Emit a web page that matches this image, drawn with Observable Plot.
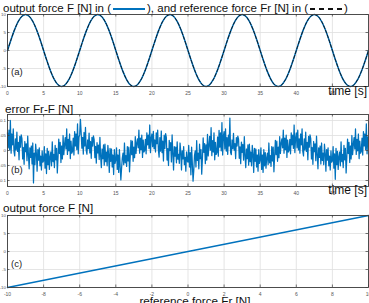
<!DOCTYPE html>
<html>
<head>
<meta charset="utf-8">
<script src="https://cdn.jsdelivr.net/npm/d3@7"></script>
<script src="https://cdn.jsdelivr.net/npm/@observablehq/plot@0.6"></script>
<style>
  body { margin: 0; background: #fff; }
  #fig { position: relative; width: 369px; height: 303px; overflow: hidden;
         font-family: "Liberation Sans", Arial, sans-serif; color: #111; background: #fff; }
  #fig > svg { position: absolute; left: 0; }
  .t { position: absolute; white-space: nowrap; font-size: 11.7px; line-height: 11.7px; }
  .t svg { vertical-align: middle; margin: 0 1px; }
</style>
</head>
<body>
<div id="fig"></div>
<script>
// Sampled forces for panel (a), one sample every 0.5 s from 0 to 50 s
const sineStep = 0.5;
const referenceForce = [
  0, 3.09, 5.88, 8.09, 9.51, 10, 9.51, 8.09, 5.88, 3.09, 0, -3.09, -5.88, -8.09, -9.51, -10, -9.51, -8.09, -5.88, -3.09,
  0, 3.09, 5.88, 8.09, 9.51, 10, 9.51, 8.09, 5.88, 3.09, 0, -3.09, -5.88, -8.09, -9.51, -10, -9.51, -8.09, -5.88, -3.09,
  0, 3.09, 5.88, 8.09, 9.51, 10, 9.51, 8.09, 5.88, 3.09, 0, -3.09, -5.88, -8.09, -9.51, -10, -9.51, -8.09, -5.88, -3.09,
  0, 3.09, 5.88, 8.09, 9.51, 10, 9.51, 8.09, 5.88, 3.09, 0, -3.09, -5.88, -8.09, -9.51, -10, -9.51, -8.09, -5.88, -3.09,
  0, 3.09, 5.88, 8.09, 9.51, 10, 9.51, 8.09, 5.88, 3.09, 0, -3.09, -5.88, -8.09, -9.51, -10, -9.51, -8.09, -5.88, -3.09,
  0
];
const outputForce = [
  0, 3.08, 5.87, 8.08, 9.50, 9.99, 9.50, 8.08, 5.88, 3.10, 0.01, -3.08, -5.88, -8.09, -9.51, -10, -9.50, -8.08, -5.87, -3.08,
  0, 3.09, 5.87, 8.08, 9.50, 9.99, 9.51, 8.09, 5.88, 3.10, 0.01, -3.08, -5.87, -8.09, -9.51, -10, -9.50, -8.08, -5.87, -3.08,
  0, 3.08, 5.87, 8.08, 9.50, 9.99, 9.50, 8.09, 5.88, 3.10, 0.01, -3.08, -5.88, -8.09, -9.51, -10, -9.50, -8.08, -5.87, -3.08,
  0, 3.09, 5.87, 8.08, 9.50, 9.99, 9.51, 8.09, 5.88, 3.10, 0.01, -3.08, -5.87, -8.09, -9.51, -10, -9.50, -8.08, -5.87, -3.08,
  0, 3.08, 5.87, 8.08, 9.50, 9.99, 9.50, 8.09, 5.88, 3.10, 0.01, -3.08, -5.88, -8.09, -9.51, -10, -9.50, -8.08, -5.87, -3.08,
  0
];

// Tracking error Fr-F for panel (b), in mN, one sample every 0.1 s (one row per second)
const errorStep = 0.1;
const errorMilli = [
  59, 9, 68, 2, 100, -9, 55, 19, 72, -3,
  -18, 39, 2, 61, -3, 27, -31, 47, 11, 52,
  40, -28, 10, -46, 30, -4, 22, -34, 48, -16,
  -61, 9, -23, 15, -45, 25, -108, -9, -47, 21,
  -9, -69, 3, -32, 9, -51, -19, -65, -1, -39,
  -35, 13, -59, -11, -77, 7, -47, -3, -63, -21,
  -5, -51, 29, -37, -13, -57, 17, -31, 7, -75,
  -22, 38, -10, 27, -40, 15, -28, 50, -14, 20,
  43, 5, 72, -13, 37, -1, 55, -27, 31, -9,
  -3, 41, -15, 63, 15, 55, 3, 89, -11, 45,
  52, 104, 61, 8, 44, -12, 60, 15, 77, 0,
  -12, 35, 6, 58, -8, 30, -26, 44, 15, 49,
  36, -24, 14, -42, 26, -8, 18, -30, 44, -20,
  -57, 5, -27, 19, -49, 21, -37, -5, -51, 17,
  -13, -73, 7, -36, 5, -55, -15, -80, 3, -43,
  -31, 9, -63, -15, -73, 3, -51, -98, -59, -25,
  -9, -47, 25, -41, -17, -53, 13, -35, 11, -71,
  -18, 34, -14, 31, -36, 11, -24, 46, -10, 24,
  39, 9, 68, -9, 41, 3, 51, -23, 35, -5,
  1, 37, -11, 59, 19, 51, 7, 85, -7, 41,
  55, 13, 64, 6, 35, -5, 59, 23, 68, 1,
  -22, 43, -2, 65, -7, 31, -35, 51, 7, 56,
  44, -32, 6, -50, 34, 0, 26, -38, 52, -12,
  -65, 13, -19, 11, -41, 29, -29, -13, -43, 25,
  -5, -65, -1, -28, 13, -47, -23, -69, -5, -35,
  -39, 17, -55, -7, -81, 11, -43, -102, -67, -17,
  -1, -55, 33, -33, -9, -61, 21, -27, 3, -79,
  -26, 42, -6, 23, -44, 19, -32, 54, -18, 16,
  47, 1, 76, -17, 33, -5, 59, -31, 27, -13,
  -7, 45, -19, 67, 11, 59, -1, 93, -15, 49,
  63, 5, 72, -2, 43, -13, 51, 15, 108, -7,
  -14, 35, 6, 57, 1, 23, -27, 43, 15, 48,
  38, -26, 12, -44, 28, -6, 20, -32, 46, -18,
  -57, 5, -27, 19, -49, 21, -37, -5, -51, 17,
  -13, -73, 7, -36, 5, -55, -15, -69, 3, -43,
  -31, 9, -63, -15, -73, 3, -51, -7, -59, -25,
  -9, -47, 25, -41, -17, -53, 13, -35, 11, -71,
  -18, 34, -14, 31, -36, 11, -24, 46, -10, 24,
  39, 9, 68, -9, 41, 3, 51, -23, 35, -5,
  1, 37, -11, 59, 19, 51, 7, 85, -7, 41,
  59, 9, 68, 2, 39, -9, 55, 19, 72, -3,
  -18, 39, 2, 61, -3, 27, -31, 47, 11, 52,
  40, -28, 10, -46, 30, -4, 22, -34, 48, -16,
  -61, 9, -23, 15, -45, 25, -33, -9, -47, 21,
  -9, -69, 3, -32, 9, -51, -19, -65, -1, -39,
  -35, 13, -59, -11, -96, 7, -47, -3, -63, -21,
  -5, -51, 29, -37, -13, -57, 17, -31, 7, -75,
  -22, 38, -10, 27, -40, 15, -28, 50, -14, 20,
  43, 5, 72, -13, 37, -1, 55, -27, 31, -9,
  -3, 41, -15, 63, 15, 55, 3, 89, -11, 45
];

// Panel (c): output force against reference force
const sweepReference = [-10, -5, 0, 5, 10];
const sweepOutput = [-10, -5, 0, 5, 10];

// Tick values
const timeTicks = [0, 5, 10, 15, 20, 25, 30, 35, 40, 45];
const forceTicks = [-10, -5, 0, 5, 10];
const errorTicks = [-0.1, -0.05, 0, 0.05, 0.1];
const sweepTicks = [-10, -8, -6, -4, -2, 0, 2, 4, 6, 8, 10];

const BLUE = "#0072bd";
const FRAME = "#3c3c3c";

const sineData = referenceForce.map((fr, i) => ({t: i * sineStep, fr, f: outputForce[i]}));
const errorData = errorMilli.map((e, i) => ({t: i * errorStep, e: e / 1000}));
const sweepData = sweepReference.map((fr, i) => ({fr, f: sweepOutput[i]}));

const fig = document.getElementById("fig");

function panel({top, xDomain, yDomain, xTicks, yTicks, marks, tag, tagDy}) {
  const W = 369, mt = 14, mb = 12, ml = 7, mr = 1, ph = 72;
  const fmt = d => String(d);
  const svg = Plot.plot({
    width: W, height: mt + ph + mb,
    marginTop: mt, marginBottom: mb, marginLeft: ml, marginRight: mr,
    style: {background: "transparent", fontFamily: "Liberation Sans, Arial, sans-serif", overflow: "visible"},
    x: {domain: xDomain},
    y: {domain: yDomain},
    marks: [
      Plot.gridX(xTicks, {stroke: "#dedede", strokeOpacity: 1, strokeWidth: 0.8}),
      Plot.gridY(yTicks, {stroke: "#dedede", strokeOpacity: 1, strokeWidth: 0.8}),
      ...marks,
      Plot.frame({stroke: FRAME, strokeWidth: 0.9}),
      Plot.tickX(xTicks, {x: d => d, insetTop: ph - 2.5, stroke: FRAME, strokeWidth: 0.7}),
      Plot.tickX(xTicks, {x: d => d, insetBottom: ph - 2.5, stroke: FRAME, strokeWidth: 0.7}),
      Plot.tickY(yTicks, {y: d => d, insetRight: W - ml - mr - 2.5, stroke: FRAME, strokeWidth: 0.7}),
      Plot.tickY(yTicks, {y: d => d, insetLeft: W - ml - mr - 2.5, stroke: FRAME, strokeWidth: 0.7}),
      Plot.axisX(xTicks, {tickSize: 0, tickPadding: 5, fontSize: 5, fill: "#555", label: null, tickFormat: fmt}),
      Plot.axisY(yTicks, {tickSize: 0, tickPadding: 1.5, fontSize: 4.4, fill: "#555", label: null, tickFormat: fmt}),
      Plot.text([tag], {text: d => d, frameAnchor: "bottom-left", textAnchor: "start",
                        dx: 3.5, dy: tagDy, fontSize: 9.5, fill: "#222"})
    ]
  });
  svg.style.top = (top - mt) + "px";
  fig.appendChild(svg);
}

// (a) output force and reference force over time
panel({
  top: 14, xDomain: [0, 50], yDomain: [-10, 10], xTicks: timeTicks, yTicks: forceTicks,
  tag: "(a)", tagDy: -12,
  marks: [
    Plot.line(sineData, {x: "t", y: "f", stroke: BLUE, strokeWidth: 1.5, curve: "catmull-rom"}),
    Plot.line(sineData, {x: "t", y: "fr", stroke: "#111", strokeWidth: 0.9, strokeDasharray: "3,2", curve: "catmull-rom"})
  ]
});

// (b) tracking error
panel({
  top: 114, xDomain: [0, 50], yDomain: [-0.12, 0.12], xTicks: timeTicks, yTicks: errorTicks,
  tag: "(b)", tagDy: -13.5,
  marks: [
    Plot.line(errorData, {x: "t", y: "e", stroke: BLUE, strokeWidth: 1.25})
  ]
});

// (c) output force versus reference force
panel({
  top: 215, xDomain: [-10, 10], yDomain: [-10, 10], xTicks: sweepTicks, yTicks: forceTicks,
  tag: "(c)", tagDy: -21,
  marks: [
    Plot.line(sweepData, {x: "fr", y: "f", stroke: BLUE, strokeWidth: 1.4})
  ]
});

// Titles and axis labels
function label(html, css) {
  const d = document.createElement("div");
  d.className = "t";
  d.innerHTML = html;
  Object.assign(d.style, css);
  fig.appendChild(d);
}
const solidSwatch = `<svg width="34" height="6"><line x1="1" x2="33" y1="3" y2="3" stroke="${BLUE}" stroke-width="2"/></svg>`;
const dashSwatch = `<svg width="34" height="6"><line x1="1" x2="33" y1="3" y2="3" stroke="#111" stroke-width="2" stroke-dasharray="5,4"/></svg>`;
label(`output force F [N] in (${solidSwatch}), and reference force Fr [N] in (${dashSwatch})`, {left: "3px", top: "2.6px", fontSize: "11.5px"});
label("time [s]", {right: "2px", top: "85.3px", fontSize: "12px", lineHeight: "12px"});
label("error Fr-F [N]", {left: "5px", top: "103.4px"});
label("time [s]", {right: "2px", top: "183.8px", fontSize: "12px", lineHeight: "12px"});
label("output force F [N]", {left: "3px", top: "202.4px"});
label("reference force Fr [N]", {left: "195px", top: "295px", transform: "translateX(-50%)"});
</script>
</body>
</html>
